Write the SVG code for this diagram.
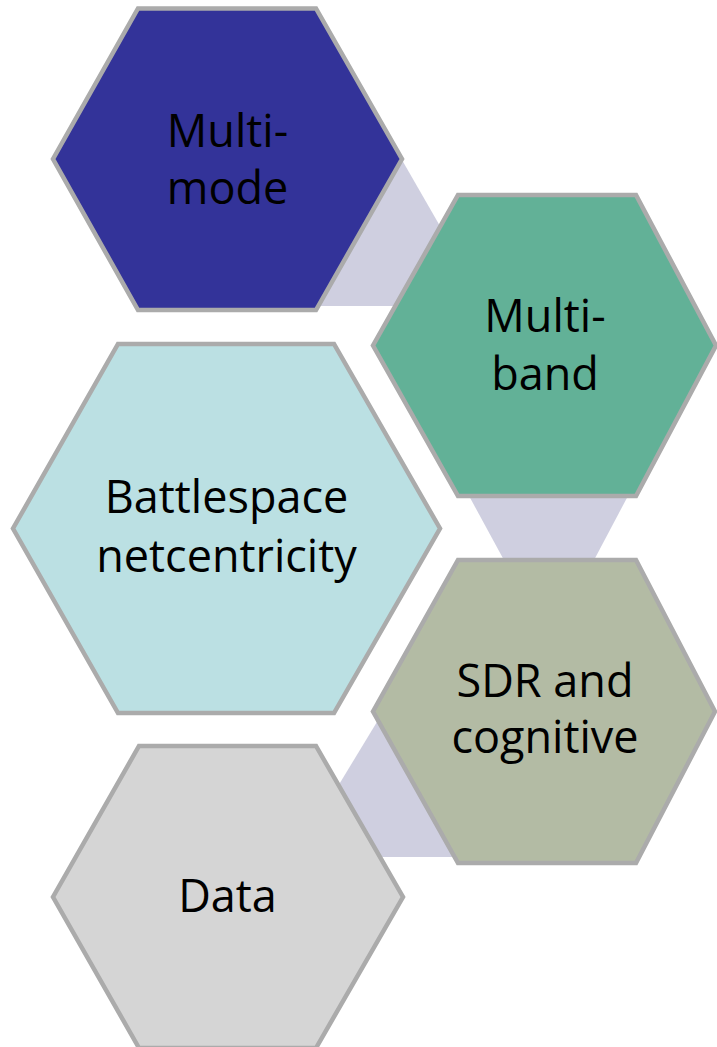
<svg xmlns="http://www.w3.org/2000/svg" width="717" height="1047" viewBox="0 0 717 1047">
<style>
.conn{fill:#cfcfe0;stroke:none}
.hex{stroke:#ababab;stroke-width:4.5;stroke-linejoin:miter}
.lbl{font-family:"Open Sans","Noto Sans","Liberation Sans",sans-serif;font-size:45px;fill:#000;text-anchor:middle}
</style>
<rect width="717" height="1047" fill="#ffffff"/>
<g id="connectors">
<polygon class="conn" points="402,160 486,306 310,306"/>
<polygon class="conn" points="468,494 629,494 593,562 505,562"/>
<polygon class="conn" points="383,712 295,857 460,857"/>
</g>
<g id="node-multimode">
<polygon class="hex" fill="#333399" points="138,8.5 316,8.5 402,159 316,310 138,310 53,159"/>
<text class="lbl" x="227.5" y="147">Multi-</text>
<text class="lbl" x="227.5" y="204">mode</text>
</g>
<g id="node-multiband">
<polygon class="hex" fill="#62b197" points="458,195 636,195 716,345.5 636,496 458,496 373,345.5"/>
<text class="lbl" x="545" y="332">Multi-</text>
<text class="lbl" x="545" y="390">band</text>
</g>
<g id="node-battlespace">
<polygon class="hex" fill="#bbe0e3" points="118,344 334,344 440,528.5 334,713 118,713 13,528.5"/>
<text class="lbl" x="226.5" y="513">Battlespace</text>
<text class="lbl" x="226.5" y="572">netcentricity</text>
</g>
<g id="node-sdr">
<polygon class="hex" fill="#b3bba4" points="458,560 636,560 715,711.5 636,863 458,863 373,711.5"/>
<text class="lbl" x="545" y="697">SDR and</text>
<text class="lbl" x="545" y="753">cognitive</text>
</g>
<g id="node-data">
<polygon class="hex" fill="#d5d5d5" points="139,746 316,746 403,897 316,1048 139,1048 53,897"/>
<text class="lbl" x="227.5" y="912">Data</text>
</g>
</svg>
